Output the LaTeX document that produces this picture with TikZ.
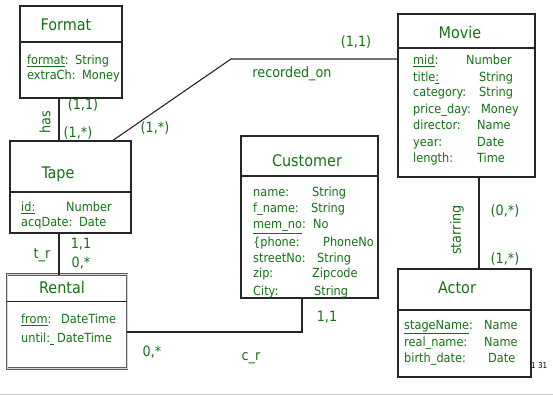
\documentclass[tikz,border=0pt]{standalone}
\usepackage{fontspec}
\setmainfont{DejaVu Sans Condensed}
\usetikzlibrary{calc}
\definecolor{erg}{RGB}{22,112,22}
\definecolor{edge}{RGB}{38,38,38}
\tikzset{
  ent/.style={draw=edge, line width=1.4pt, anchor=north west, inner sep=0pt, outer sep=0pt},
  weakent/.style={draw=gray!75!black, double=gray!35, double distance=0.9pt, line width=1pt,
    anchor=north west, inner sep=0pt, outer sep=0pt},
  divider/.style={draw=edge, line width=1.2pt},
  conn/.style={draw=edge, line width=1.1pt},
  title/.style={text=erg, font=\fontsize{16}{18}\selectfont, anchor=base, inner sep=0pt},
  attr/.style={text=erg, font=\fontsize{12.6}{14}\selectfont, anchor=base west, inner sep=0pt},
  lbl/.style={text=erg, font=\fontsize{14.2}{16}\selectfont, anchor=base, inner sep=0pt},
  rlbl/.style={text=erg, font=\fontsize{14.2}{16}\selectfont, rotate=90, anchor=center, inner sep=0pt},
}
% one attribute line: name, y, label x, label, type x, type
\newcommand\attrow[6]{%
  \node[attr] (#1l) at (#3,#2+4.5) {#4};
  \node[attr] (#1t) at (#5,#2+4.5) {#6};}
\begin{document}
\begin{tikzpicture}[x=1pt,y=-1pt]
\useasboundingbox (0,0) rectangle (553,395);

% ---------- entities ----------
\node[ent, minimum width=102pt, minimum height=92pt] (format) at (20,6) {};
\draw[divider] (format.west |- 0,42) -- (format.east |- 0,42);
\node[title] (formatT) at (66,30.5) {Format};
\attrow{fa}{60}{27}{\underline{format}:}{75}{String}
\attrow{fb}{75}{27}{extraCh:}{82}{Money}

\node[ent, minimum width=121pt, minimum height=92pt] (tape) at (10,141) {};
\draw[divider] (tape.west |- 0,192) -- (tape.east |- 0,192);
\node[title] (tapeT) at (58,178.5) {Tape};
\attrow{ta}{207}{21}{\underline{id:}}{66}{Number}
\attrow{tb}{222}{21}{acqDate:}{79}{Date}

\node[weakent, minimum width=120pt, minimum height=94pt] (rental) at (7,274.5) {};
\draw[divider, line width=1pt] (rental.west |- 0,301) -- (rental.east |- 0,301);
\node[title] (rentalT) at (62,293.5) {Rental};
\attrow{ra}{319}{21}{\underline{from}:}{61}{DateTime}
\attrow{rb}{338}{21}{until:\underline{\hspace{4pt}}}{57}{DateTime}

\node[ent, minimum width=137pt, minimum height=162pt] (customer) at (241,136) {};
\draw[divider] (customer.west |- 0,176) -- (customer.east |- 0,176);
\node[title] (customerT) at (307,166.5) {Customer};
\attrow{ca}{192}{253}{name:}{312}{String}
\attrow{cb}{208}{253}{f\_name:}{311}{String}
\attrow{cc}{224}{253}{\underline{mem\_no}:}{313}{No}
\attrow{cd}{242}{253}{\{phone:}{323}{PhoneNo}
\attrow{ce}{258}{253}{streetNo:}{317}{String}
\attrow{cf}{273}{253}{zip:}{312}{Zipcode}
\attrow{cg}{291}{253}{City:}{314}{String}

\node[ent, minimum width=137pt, minimum height=163pt] (movie) at (398,14) {};
\draw[divider] (movie.west |- 0,48) -- (movie.east |- 0,48);
\node[title] (movieT) at (460,38.5) {Movie};
\attrow{ma}{60}{413}{\underline{mid}:}{466}{Number}
\attrow{mb}{77}{413}{title\underline{:}}{479}{String}
\attrow{mc}{92}{413}{category:}{479}{String}
\attrow{md}{109}{413}{price\_day:}{481}{Money}
\attrow{me}{125}{413}{director:}{477}{Name}
\attrow{mf}{142}{413}{year:}{477}{Date}
\attrow{mg}{158}{413}{length:}{477}{Time}

\node[ent, minimum width=133pt, minimum height=108pt] (actor) at (398,269) {};
\draw[divider] (actor.west |- 0,310) -- (actor.east |- 0,310);
\node[title] (actorT) at (457,293.5) {Actor};
\attrow{aa}{325}{404}{\underline{stageName}:}{484}{Name}
\attrow{ab}{342}{404}{real\_name:}{484}{Name}
\attrow{ac}{358}{404}{birth\_date:}{488}{Date}

% ---------- relationships ----------
\coordinate (hasTop) at ($(format.south west)+(39,0)$);
\draw[conn] (hasTop) -- (hasTop |- tape.north);
\node[rlbl] (hasL) at (45,122) {has};
\node[lbl] (hasA) at (83,110) {(1,1)};
\node[lbl] (hasB) at (78,138) {(1,*)};

\coordinate (recA) at ($(tape.north west)+(102,0)$);
\coordinate (recB) at (231,59);
\draw[conn] (recA) -- (recB) -- (recB -| movie.west);
\node[lbl] (recL) at (292,78) {recorded\_on};
\node[lbl] (recM) at (356,47) {(1,1)};
\node[lbl] (recT) at (155,133) {(1,*)};

\coordinate (trTop) at ($(tape.south west)+(49,0)$);
\draw[conn] (trTop) -- (trTop |- rental.north);
\node[lbl] (trL) at (42,258) {t\_r};
\node[lbl] (trA) at (81,248) {1,1};
\node[lbl] (trB) at (81,267) {0,*};

\coordinate (crB) at (302,332);
\draw[conn] (crB -| rental.east) -- (crB) -- (crB |- customer.south);
\node[lbl] (crA) at (152,356) {0,*};
\node[lbl] (crL) at (251,360) {c\_r};
\node[lbl] (crC) at (327,321) {1,1};

\coordinate (stX) at (479,0);
\draw[conn] (stX |- movie.south) -- (stX |- actor.north);
\node[rlbl] (stL) at (457,230) {starring};
\node[lbl] (stA) at (505,215) {(0,*)};
\node[lbl] (stB) at (505,263) {(1,*)};

% ---------- page footer ----------
\node[font=\fontsize{8}{9}\selectfont, anchor=base west, inner sep=0pt] (pageNo) at (531,368) {1 31};
\draw[gray!45, line width=1pt] (0,394) -- (553,394);
\end{tikzpicture}
\end{document}
